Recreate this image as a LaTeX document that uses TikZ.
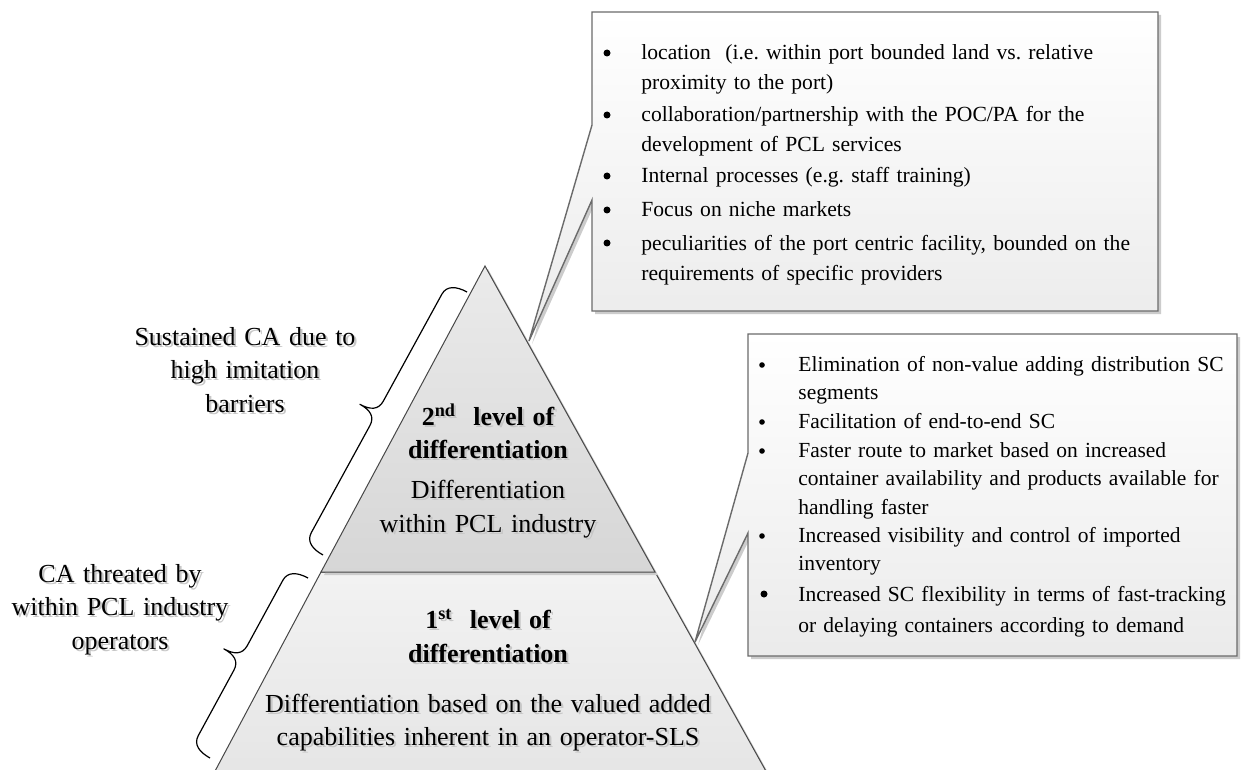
\documentclass[tikz,border=0pt]{standalone}
\usepackage{fontspec}
\setmainfont{Liberation Serif}
\usetikzlibrary{calc,shadows}

% text with a soft grey shadow, one line at a time
\newcommand\shl[1]{\leavevmode\rlap{\kern1.1pt\raisebox{-1.1pt}{\textcolor{black!22}{#1}}}#1}

% curly brace from #1 to #2, bulging to the left of the direction #1 -> #2
\newcommand\curlybrace[2]{%
  \draw[bracketline] (#1)
    .. controls ($(#1)!6pt!90:(#2)$) and ($(#1)!2pt!(#2)!10.5pt!90:(#2)$)
    .. ($(#1)!7pt!(#2)!10.5pt!90:(#2)$)
    -- ($(#1)!.5!(#2)!7pt!(#1)!10.5pt!-90:(#1)$)
    .. controls ($(#1)!.5!(#2)!2pt!(#1)!10.5pt!-90:(#1)$) and ($(#1)!.5!(#2)!14pt!90:(#2)$)
    .. ($(#1)!.5!(#2)!20pt!90:(#2)$)
    .. controls ($(#1)!.5!(#2)!14pt!90:(#2)$) and ($(#1)!.5!(#2)!2pt!(#2)!10.5pt!90:(#2)$)
    .. ($(#1)!.5!(#2)!7pt!(#2)!10.5pt!90:(#2)$)
    -- ($(#2)!7pt!(#1)!10.5pt!-90:(#1)$)
    .. controls ($(#2)!2pt!(#1)!10.5pt!-90:(#1)$) and ($(#2)!6pt!-90:(#1)$)
    .. (#2);}

\tikzset{
  softshadow/.style={drop shadow={shadow xshift=1.5pt, shadow yshift=-1.5pt, fill=black!20, opacity=1}},
  calloutbox/.style={draw=black!58, line width=0.7pt, line join=miter,
    top color=white, bottom color=black!8, softshadow},
  tierup/.style={draw=black!72, line width=0.5pt, top color=black!8, bottom color=black!16, softshadow},
  tierlow/.style={draw=black!72, line width=0.5pt, top color=black!5, bottom color=black!10, softshadow},
  bracketline/.style={draw=black, line width=0.6pt, line join=round},
  entry/.style={anchor=base west, inner sep=0pt, align=left, text width=265pt,
    font=\fontsize{10.8}{15}\selectfont},
  entrylow/.style={entry, font=\fontsize{10.75}{14.25}\selectfont},
  bulletdot/.style={circle, fill=black, inner sep=0pt, minimum size=3.5pt},
  smalldot/.style={circle, fill=black, inner sep=0pt, minimum size=2.8pt},
  tiertext/.style={anchor=base, inner sep=0pt, align=center, text width=260pt},
  sidelabel/.style={anchor=base, inner sep=0pt, align=center, text width=140pt,
    font=\fontsize{13}{16.75}\selectfont},
}

\begin{document}
\frenchspacing
\begin{tikzpicture}[x=0.5pt, y=-0.5pt]
\useasboundingbox (0,0) rectangle (1241,770);
\fill[white] (0,0) rectangle (1241,770);

% pyramid corners
\coordinate (apex) at (485,266);
\coordinate (ml) at (321,572);
\coordinate (mr) at (655,572);
\coordinate (bl) at (214,773);
\coordinate (br) at (767,773);

% lower tier, then upper tier
\path[tierlow] (ml) -- (mr) -- (br) -- (bl) -- cycle;
\path[tierup] (apex) -- (mr) -- (ml) -- cycle;

% tier texts
\node[tiertext, font=\fontsize{13}{16.5}\selectfont\bfseries] (t2head) at (488,425)
  {\shl{2\textsuperscript{nd}\ \ level of}\\\shl{differentiation}};
\node[tiertext, font=\fontsize{13}{17}\selectfont] (t2body) at (488,498)
  {\shl{Differentiation}\\\shl{within PCL industry}};
\node[tiertext, font=\fontsize{13}{17}\selectfont\bfseries] (t1head) at (488,628)
  {\shl{1\textsuperscript{st}\ \ level of}\\\shl{differentiation}};
\node[tiertext, font=\fontsize{13}{16.5}\selectfont] (t1body) at (488,712)
  {\shl{Differentiation based on the valued added}\\\shl{capabilities inherent in an operator-SLS}};

% braces and their labels
\coordinate (up-s) at (323,555);
\coordinate (up-e) at (467,292);
\coordinate (lo-s) at (210,758);
\coordinate (lo-e) at (308,578);
\curlybrace{up-s}{up-e}
\curlybrace{lo-s}{lo-e}

\node[sidelabel] (lab2) at (245,345)
  {\shl{Sustained CA due to}\\\shl{high imitation}\\\shl{barriers}};
\node[sidelabel] (lab1) at (120,582)
  {\shl{CA threated by}\\\shl{within PCL industry}\\\shl{operators}};

% upper callout
\coordinate (tipA) at (529,341);
\path[calloutbox] (592,12) -- (1158,12) -- (1158,311) -- (592,311) -- (592,200)
  -- (tipA) -- (592,125) -- cycle;

\node[entry] (a1) at (641,60) {location\ \ (i.e. within port bounded land vs. relative\\proximity to the port)};
\node[entry] (a2) at (641,122) {collaboration/partnership with the POC/PA for the\\development of PCL services};
\node[entry] (a3) at (641,183) {Internal processes (e.g. staff training)};
\node[entry] (a4) at (641,217) {Focus on niche markets};
\node[entry] (a5) at (641,250) {peculiarities of the port centric facility, bounded on the\\requirements of specific providers};
\foreach \n in {1,...,5}
  \node[bulletdot] (da\n) at ([xshift=-17pt, yshift=3.5pt]a\n.base west) {};

% lower callout
\coordinate (tipB) at (695,642);
\path[calloutbox] (748,334) -- (1237,334) -- (1237,656) -- (748,656) -- (748,533)
  -- (tipB) -- (748,453) -- cycle;

\node[entrylow] (b1) at (798,371) {Elimination of non-value adding distribution SC\\segments};
\node[entrylow] (b2) at (798,428) {Facilitation of end-to-end SC};
\node[entrylow] (b3) at (798,457) {Faster route to market based on increased\\container availability and products available for\\handling faster};
\node[entrylow] (b4) at (798,542) {Increased visibility and control of imported\\inventory};
\node[entry, font=\fontsize{10.75}{15.5}\selectfont] (b5) at (798,601) {Increased SC flexibility in terms of fast-tracking\\or delaying containers according to demand};
\foreach \n in {1,...,4}
  \node[smalldot] (db\n) at ([xshift=-18pt, yshift=3pt]b\n.base west) {};
\node[bulletdot] (db5) at ([xshift=-17pt, yshift=3.5pt]b5.base west) {};
\end{tikzpicture}
\end{document}
